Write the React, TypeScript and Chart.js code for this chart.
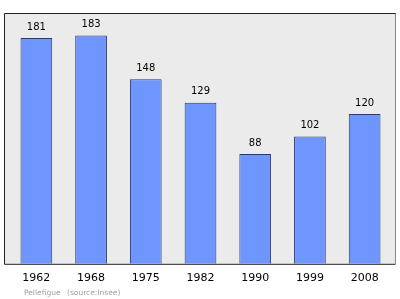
import React, { useEffect, useRef } from "react";
import { Chart, registerables } from "chart.js";

Chart.register(...registerables);

const years = ["1962", "1968", "1975", "1982", "1990", "1999", "2008"];
const population = [181, 183, 148, 129, 88, 102, 120];
const footerAuthor = "Pellefigue";
const footerSource = "(source:Insee)";

const decorPlugin = {
  id: "decor",
  beforeDraw(chart: any) {
    const { ctx, chartArea } = chart;
    const l = chartArea.left - 5;
    const r = chartArea.right + 3;
    const t = chartArea.top;
    const b = chartArea.bottom;
    ctx.save();
    ctx.fillStyle = "#ebebeb";
    ctx.fillRect(l, t, r - l, b - t);
    ctx.restore();
  },
  afterDatasetsDraw(chart: any) {
    const { ctx, chartArea } = chart;
    const l = chartArea.left - 5;
    const r = chartArea.right + 3;
    const t = chartArea.top;
    const b = chartArea.bottom;
    ctx.save();
    ctx.lineWidth = 1;
    ctx.strokeStyle = "#888888";
    ctx.beginPath();
    ctx.moveTo(r + 0.5, t);
    ctx.lineTo(r + 0.5, b);
    ctx.stroke();
    ctx.strokeStyle = "#222222";
    ctx.beginPath();
    ctx.moveTo(r + 0.5, t + 0.5);
    ctx.lineTo(l + 0.5, t + 0.5);
    ctx.lineTo(l + 0.5, b + 0.5);
    ctx.lineTo(r + 0.5, b + 0.5);
    ctx.stroke();

    const meta = chart.getDatasetMeta(0);
    ctx.fillStyle = "#000";
    ctx.font = "10px 'DejaVu Sans'";
    ctx.textAlign = "center";
    ctx.textBaseline = "bottom";
    meta.data.forEach((el: any, i: number) => {
      ctx.fillText(String(population[i]), el.x, el.y - 6);
    });

    ctx.fillStyle = "#a0a0a0";
    ctx.font = "7.5px 'DejaVu Sans'";
    ctx.textAlign = "left";
    ctx.textBaseline = "middle";
    ctx.fillText(footerAuthor, 24, 293);
    ctx.fillText(footerSource, 67, 293);
    ctx.restore();
  },
};

export default function App() {
  const ref = useRef<HTMLCanvasElement>(null);
  useEffect(() => {
    document.body.style.margin = "0";
    const chart = new Chart(ref.current!, {
      type: "bar",
      data: {
        labels: years,
        datasets: [
          {
            data: population,
            backgroundColor: "#6f95ff",
            borderColor: "#2b3a6b",
            borderWidth: 1,
            categoryPercentage: 1,
            barPercentage: 0.58,
          },
        ],
      },
      options: {
        animation: false,
        responsive: false,
        devicePixelRatio: 1,
        layout: { padding: { left: 9, right: 8, top: 13, bottom: 6 } },
        plugins: { legend: { display: false }, tooltip: { enabled: false } },
        scales: {
          x: {
            grid: { display: false, drawTicks: false },
            border: { display: false },
            ticks: {
              color: "#000",
              font: { family: "'DejaVu Sans'", size: 11 },
              padding: 8,
            },
          },
          y: { display: false, min: 0, max: 201 },
        },
      },
      plugins: [decorPlugin],
    });
    return () => chart.destroy();
  }, []);
  return (
    <div style={{ position: "absolute", left: 0, top: 0, width: 400, height: 299 }}>
      <canvas ref={ref} width={400} height={299} />
    </div>
  );
}
